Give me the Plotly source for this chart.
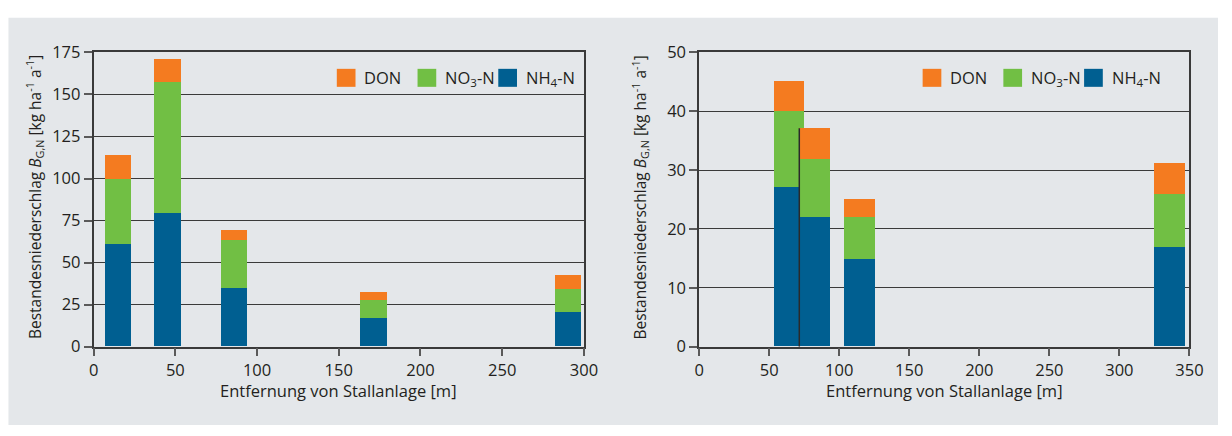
import plotly.graph_objects as go

# ---------------- data ----------------
left_dist = [14.5, 45, 85.5, 171, 290]
left_nh4 = [61, 79, 34.5, 17, 20.5]
left_no3 = [38.5, 78, 28.5, 10.5, 13.5]
left_don = [14.5, 14, 6, 5, 8.5]
left_width = 16

right_dist = [64.3, 82.5, 114.8, 336]
right_nh4 = [27, 22, 14.8, 16.8]
right_no3 = [13, 9.8, 7.1, 9]
right_don = [5.1, 5.3, 3.1, 5.3]
right_width = 22

left_xticks = [0, 50, 100, 150, 200, 250, 300]
left_yticks = [0, 25, 50, 75, 100, 125, 150, 175]
right_xticks = [0, 50, 100, 150, 200, 250, 300, 350]
right_yticks = [0, 10, 20, 30, 40, 50]

colors = {"NH4": "#005f91", "NO3": "#71bf44", "DON": "#f47b20"}

# ---------------- style ----------------
FONT = "Open Sans"
TXT = "#231f20"
GRID = "#3a3a3a"
TICKC = "#5a5a5a"
PANEL = "#e4e7ea"
FS = 16.5

W, H = 1232, 436
L_DOM = [90 / W, 588 / W]
R_DOM = [705 / W, 1203 / W]
Y_DOM = [(H - 353.3) / H, (H - 42.7) / H]

def px_x(p):
    return p / W

def px_y(p):
    return (H - p) / H

fig = go.Figure()

def add_stack(xa, ya, dist, width, nh4, no3, don):
    for vals, key in ((nh4, "NH4"), (no3, "NO3"), (don, "DON")):
        fig.add_trace(go.Bar(
            x=dist, y=vals, width=[width] * len(dist),
            marker=dict(color=colors[key], line=dict(width=0)),
            xaxis=xa, yaxis=ya, showlegend=False,
        ))

add_stack("x", "y", left_dist, left_width, left_nh4, left_no3, left_don)
add_stack("x2", "y2", right_dist, right_width, right_nh4, right_no3, right_don)

# dark left edge of the second right-hand bar (overlapping bar)
edge_x = right_dist[1] - right_width / 2
edge_top = right_nh4[1] + right_no3[1] + right_don[1]
fig.add_trace(go.Scatter(
    x=[edge_x, edge_x], y=[0, edge_top], mode="lines",
    line=dict(color="#2a2a2a", width=1.5),
    xaxis="x2", yaxis="y2", showlegend=False, hoverinfo="skip",
))

axis_common = dict(
    showline=True, linecolor=GRID, linewidth=1.6, mirror=True,
    ticks="outside", ticklen=8, tickwidth=1.5, tickcolor=TICKC,
    tickfont=dict(family=FONT, size=FS, color=TXT),
    zeroline=False, title=dict(text=""),
)

fig.update_layout(
    width=W, height=H, autosize=False,
    margin=dict(l=0, r=0, t=0, b=0),
    paper_bgcolor="white", plot_bgcolor="rgba(0,0,0,0)",
    barmode="stack", bargap=0,
    font=dict(family=FONT, color=TXT),
    xaxis=dict(domain=L_DOM, range=[0, 300], tickvals=left_xticks,
               showgrid=False, anchor="y", **axis_common),
    yaxis=dict(domain=Y_DOM, range=[0, 175], tickvals=left_yticks,
               showgrid=True, gridcolor=GRID, gridwidth=1.3, anchor="x",
               **axis_common),
    xaxis2=dict(domain=R_DOM, range=[0, 350], tickvals=right_xticks,
                showgrid=False, anchor="y2", **axis_common),
    yaxis2=dict(domain=Y_DOM, range=[0, 50], tickvals=right_yticks,
                showgrid=True, gridcolor=GRID, gridwidth=1.3, anchor="x2",
                **axis_common),
)

# grey panel background
fig.add_shape(type="rect", xref="paper", yref="paper", layer="below",
              x0=px_x(3.5), x1=1, y0=0, y1=px_y(6),
              fillcolor=PANEL, line=dict(width=0))

# axis titles
ytitle = ("Bestandesniederschlag <i>B</i><sub>G,N</sub> "
          "[kg ha<sup>-1</sup> a<sup>-1</sup>]")
xtitle = "Entfernung von Stallanlage [m]"
for dom, ycx in ((L_DOM, 30), (R_DOM, 645)):
    fig.add_annotation(xref="paper", yref="paper", x=(dom[0] + dom[1]) / 2, y=px_y(400),
                       text=xtitle, showarrow=False, xanchor="center", yanchor="middle",
                       font=dict(family=FONT, size=FS, color=TXT))
    fig.add_annotation(xref="paper", yref="paper", x=px_x(ycx), y=(Y_DOM[0] + Y_DOM[1]) / 2 + 0.005,
                       text=ytitle, textangle=-90, showarrow=False,
                       xanchor="center", yanchor="middle",
                       font=dict(family=FONT, size=15.5, color=TXT))

# manual legends (square swatches + labels), one per panel
legend_items = [("DON", colors["DON"]), ("NO<sub>3</sub>-N", colors["NO3"]),
                ("NH<sub>4</sub>-N", colors["NH4"])]
legend_x_left = [337, 419, 501]
legend_x_right = [932, 1014, 1096]
SQ = 19
sq_top, sq_bot = 60, 79
for xs in (legend_x_left, legend_x_right):
    for (label, col), x0 in zip(legend_items, xs):
        fig.add_shape(type="rect", xref="paper", yref="paper",
                      x0=px_x(x0), x1=px_x(x0 + SQ),
                      y0=px_y(sq_bot), y1=px_y(sq_top),
                      fillcolor=col, line=dict(width=0))
        fig.add_annotation(xref="paper", yref="paper",
                           x=px_x(x0 + SQ + 7), y=px_y((sq_top + sq_bot) / 2),
                           text=label, showarrow=False, xanchor="left", yanchor="middle",
                           font=dict(family=FONT, size=FS, color=TXT))

post = (
    "var s='margin:0;padding:0;overflow:hidden;width:1232px;height:436px;';"
    "document.documentElement.style.cssText=s;"
    "document.body.style.cssText=s;"
    "var d=document.getElementById('{plot_id}');"
    "d.style.position='fixed';d.style.left='0px';d.style.top='0px';"
)

fig.write_html(
    "out.html",
    config={"responsive": False, "displayModeBar": False},
    post_script=post,
)
